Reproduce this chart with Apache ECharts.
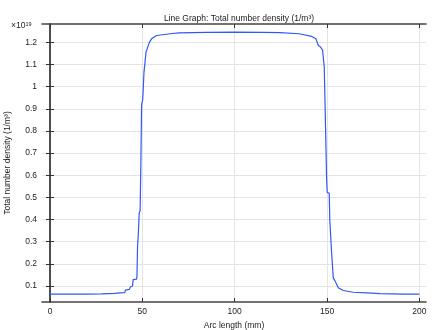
<!DOCTYPE html>
<html><head><meta charset="utf-8">
<script src="https://cdn.jsdelivr.net/npm/echarts@6/dist/echarts.min.js"></script>
<style>html,body{margin:0;padding:0;background:#fff}#c{width:441px;height:330px}</style>
</head><body><div id="c"></div>
<script>
const arcLength = [0,10,20,28,35,38,40.5,40.8,43,43.5,44.7,45,46.9,47.1,47.4,47.8,48.3,48.8,49.2,49.6,50.2,50.9,51.5,52,53.8,55,57.7,65,70,85,100,115,124.5,135,141.7,144,145.3,146.5,147.6,148.5,148.9,149.8,150.1,151.2,151.5,152.5,153.4,154.9,156.1,158.8,164.2,171.5,178.7,185,192,200];
const density = [0.064,0.064,0.064,0.065,0.067,0.069,0.070,0.082,0.085,0.096,0.100,0.129,0.131,0.144,0.280,0.330,0.430,0.440,0.650,0.920,0.940,1.066,1.074,1.156,1.200,1.216,1.231,1.239,1.243,1.245,1.246,1.245,1.244,1.239,1.227,1.216,1.186,1.179,1.164,1.089,0.939,0.579,0.522,0.520,0.399,0.249,0.137,0.114,0.092,0.080,0.072,0.069,0.066,0.065,0.064,0.064];
const xTicks = [0,50,100,150,200];
const yTicks = [0.1,0.2,0.3,0.4,0.5,0.6,0.7,0.8,0.9,1.0,1.1,1.2];

const FONT = 'Liberation Sans';
const AX = '#444';
const chart = echarts.init(document.getElementById('c'), null, {renderer:'canvas'});
const tickStyle = {inside:true, length:4, lineStyle:{color:'#333', width:1}};
chart.setOption({
  animation:false,
  textStyle:{fontFamily:FONT},
  title:{text:'Line Graph: Total number density (1/m³)', left:234, textAlign:'center', top:9,
    textStyle:{fontSize:8.5, fontWeight:'normal', color:'#222', fontFamily:FONT}},
  graphic:[{type:'text', left:11, top:21, style:{
    text:'{a|×10}{b|19}', fill:'#222', fontFamily:FONT,
    rich:{a:{fontSize:8.5, fill:'#222', fontFamily:FONT}, b:{fontSize:5.5, fill:'#222', fontFamily:FONT, verticalAlign:'top', padding:[0,0,4,0]}}}}],
  grid:{left:42, right:15, top:24, bottom:28, containLabel:false, outerBoundsMode:'none'},
  xAxis:[{
    type:'value', min:-4.33, max:203.6, position:'bottom',
    name:'Arc length (mm)', nameLocation:'middle', nameGap:16,
    nameTextStyle:{fontSize:8.5, color:'#222', fontFamily:FONT},
    axisLine:{show:true, lineStyle:{color:AX, width:1.5}},
    axisTick:Object.assign({customValues:xTicks}, tickStyle),
    axisLabel:{customValues:xTicks, fontSize:8.5, color:'#222', margin:5, fontFamily:FONT},
    splitLine:{show:true, lineStyle:{color:'#e4e4e4', width:1}}
  },{
    type:'value', min:-4.33, max:203.6, position:'top',
    axisLine:{show:true, lineStyle:{color:AX, width:1.5}},
    axisTick:Object.assign({customValues:xTicks}, tickStyle),
    axisLabel:{show:false, customValues:xTicks},
    splitLine:{show:false}
  }],
  yAxis:[{
    type:'value', min:0.028, max:1.283, position:'left',
    name:'Total number density (1/m³)', nameLocation:'middle', nameGap:30, nameRotate:90,
    nameTextStyle:{fontSize:8.5, color:'#222', fontFamily:FONT},
    axisLine:{show:true, lineStyle:{color:AX, width:1.5}},
    axisTick:Object.assign({customValues:yTicks}, tickStyle),
    axisLabel:{customValues:yTicks, fontSize:8.5, color:'#222', margin:5, fontFamily:FONT,
      formatter:v=>String(Math.round(v*10)/10)},
    splitLine:{show:true, lineStyle:{color:'#e4e4e4', width:1}}
  },{
    type:'value', min:0.028, max:1.283, position:'right',
    axisLine:{show:true, lineStyle:{color:AX, width:1.5}},
    axisTick:Object.assign({customValues:yTicks}, tickStyle),
    axisLabel:{show:false, customValues:yTicks},
    splitLine:{show:false}
  }],
  series:[{
    type:'line', xAxisIndex:0, yAxisIndex:0,
    data:arcLength.map((x,i)=>[x,density[i]]),
    showSymbol:false, symbol:'none',
    lineStyle:{color:'#3058f5', width:1.2}
  }]
});
</script></body></html>
